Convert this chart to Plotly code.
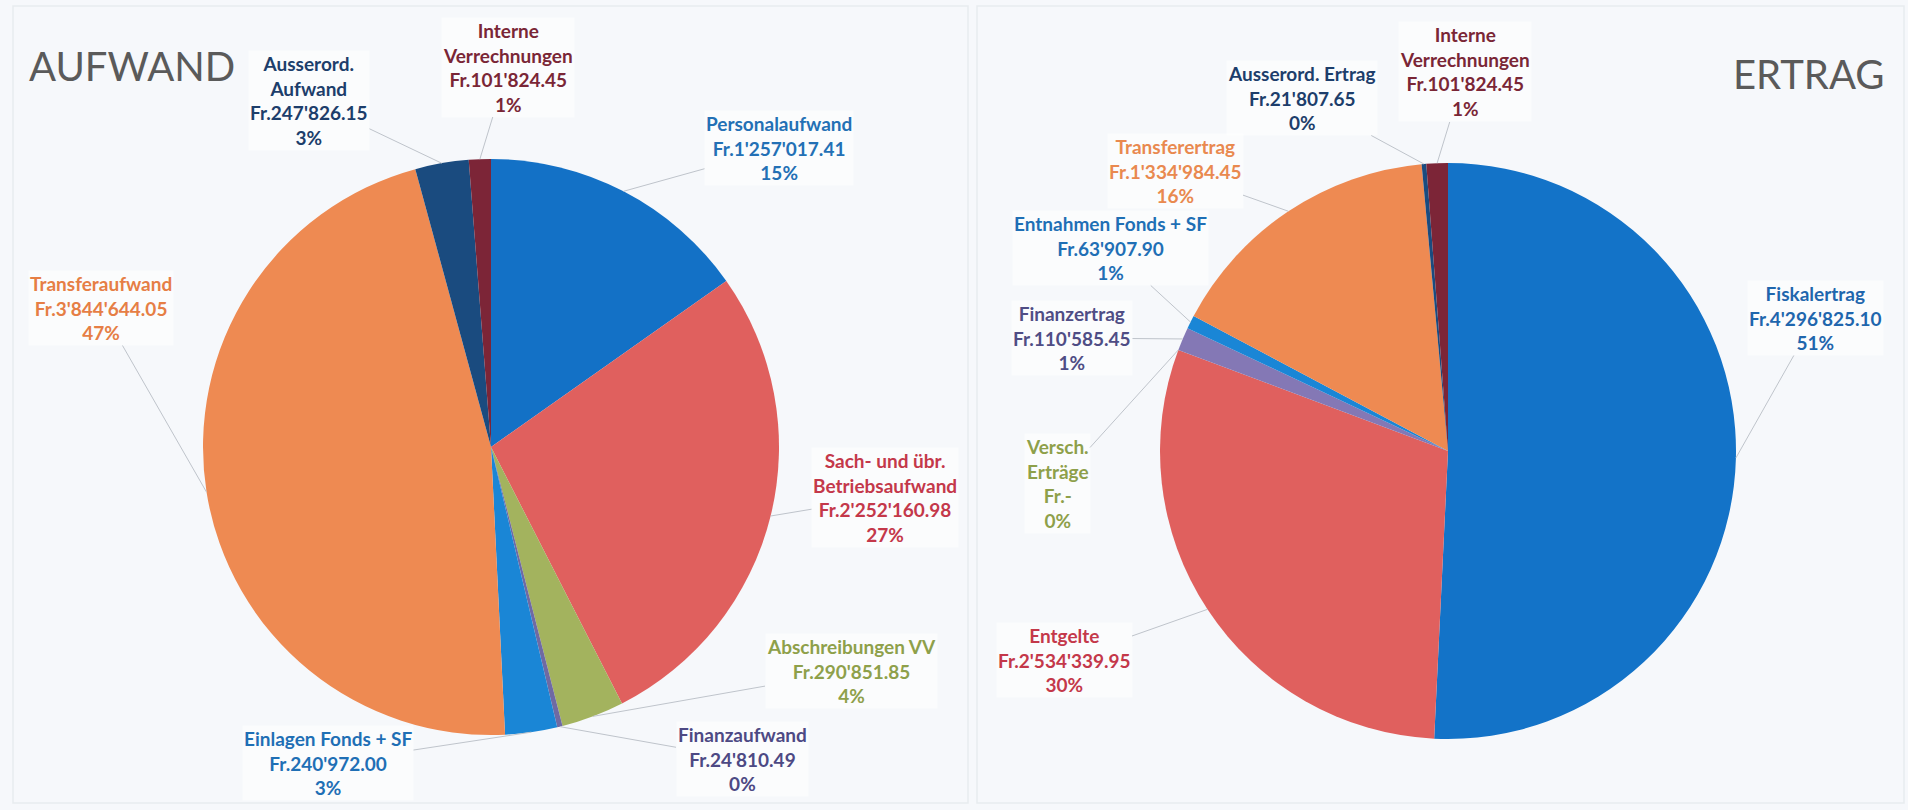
import math
import plotly.graph_objects as go

# ---------------- data ----------------
aufwand_labels = ["Personalaufwand", "Sach- und übr. Betriebsaufwand", "Abschreibungen VV",
                  "Finanzaufwand", "Einlagen Fonds + SF", "Transferaufwand",
                  "Ausserord. Aufwand", "Interne Verrechnungen"]
aufwand_display = ["Personalaufwand", "Sach- und übr.<br>Betriebsaufwand", "Abschreibungen VV",
                   "Finanzaufwand", "Einlagen Fonds + SF", "Transferaufwand",
                   "Ausserord.<br>Aufwand", "Interne<br>Verrechnungen"]
aufwand_values = [1257017.41, 2252160.98, 290851.85, 24810.49, 240972.00, 3844644.05,
                  247826.15, 101824.45]

ertrag_labels = ["Fiskalertrag", "Entgelte", "Versch. Erträge", "Finanzertrag",
                 "Entnahmen Fonds + SF", "Transferertrag", "Ausserord. Ertrag",
                 "Interne Verrechnungen"]
ertrag_display = ["Fiskalertrag", "Entgelte", "Versch.<br>Erträge", "Finanzertrag",
                  "Entnahmen Fonds + SF", "Transferertrag", "Ausserord. Ertrag",
                  "Interne<br>Verrechnungen"]
ertrag_values = [4296825.10, 2534339.95, 0.0, 110585.45, 63907.90, 1334984.45,
                 21807.65, 101824.45]

titles = ["AUFWAND", "ERTRAG"]

# ---------------- styles / layout ----------------
W, H = 1908, 810
BG = "#F6F8FB"

aufwand_colors = ["#1371C6", "#E0605E", "#A3B35E", "#6F6AA3", "#1A86D6", "#EE8A52",
                  "#1A4B7F", "#7C2537"]
aufwand_text_colors = ["#2370B5", "#C4384A", "#8EA04A", "#4D4984", "#1F6FB5", "#E67E45",
                       "#1D3E6B", "#7A2636"]
ertrag_colors = ["#1373C8", "#E0605E", "#A3B35E", "#8478B5", "#1A86D6", "#EE8A52",
                 "#1A4B7F", "#7C2537"]
ertrag_text_colors = ["#1F66AD", "#C4384A", "#8EA04A", "#4F4D85", "#1F6FB5", "#E9894F",
                      "#1D3E6B", "#7A2636"]

# label box centres in pixels (layout)
aufwand_label_pos = [(779, 148), (885, 497), (851, 671), (742, 759), (328, 763),
                     (101, 308), (309, 100), (508, 67)]
ertrag_label_pos = [(1815, 318), (1064, 660), (1057, 484), (1072, 338), (1110, 248),
                    (1175, 171), (1302, 98), (1465, 72)]

# pie geometry in pixels
pies = [dict(cx=491, cy=447, r=288), dict(cx=1448, cy=451, r=288)]
title_pos = [(132, 66), (1808, 74)]

FONT = "Lato"


def fmt_fr(v):
    if v == 0:
        return "Fr.-"
    return "Fr." + f"{v:,.2f}".replace(",", "'")


def domain(p):
    x0 = (p["cx"] - p["r"]) / W
    x1 = (p["cx"] + p["r"]) / W
    y0 = 1 - (p["cy"] + p["r"]) / H
    y1 = 1 - (p["cy"] - p["r"]) / H
    return dict(x=[x0, x1], y=[y0, y1])


fig = go.Figure()
annotations = []

sets = [
    (aufwand_labels, aufwand_display, aufwand_values, aufwand_colors, aufwand_text_colors,
     aufwand_label_pos),
    (ertrag_labels, ertrag_display, ertrag_values, ertrag_colors, ertrag_text_colors,
     ertrag_label_pos),
]

for k, (labels, disp, vals, cols, tcols, lpos) in enumerate(sets):
    p = pies[k]
    fig.add_trace(go.Pie(
        labels=labels, values=vals, sort=False, direction="clockwise", rotation=0,
        marker=dict(colors=cols, line=dict(width=0)),
        textinfo="none", hoverinfo="label+value+percent",
        domain=domain(p), showlegend=False,
    ))
    total = sum(vals)
    cum = 0.0
    for i, v in enumerate(vals):
        mid = (cum + v / 2) / total
        cum += v
        ang = 2 * math.pi * mid
        ex = p["cx"] + p["r"] * math.sin(ang)
        ey = p["cy"] - p["r"] * math.cos(ang)
        lx, ly = lpos[i]
        pct = round(100 * v / total)
        text = f"<b>{disp[i]}<br>{fmt_fr(v)}<br>{pct}%</b>"
        annotations.append(dict(
            x=ex / W, y=1 - ey / H, xref="paper", yref="paper",
            ax=lx - ex, ay=ly - ey, axref="pixel", ayref="pixel",
            text=text, showarrow=True, arrowhead=0, arrowwidth=1,
            arrowcolor="#BFC4CB", standoff=0, startstandoff=0,
            font=dict(family=FONT, size=19, color=tcols[i]),
            align="center", bgcolor="rgba(255,255,255,0.55)", borderpad=1,
        ))
    tx, ty = title_pos[k]
    annotations.append(dict(
        x=tx / W, y=1 - ty / H, xref="paper", yref="paper", showarrow=False,
        text=titles[k], font=dict(family=FONT, size=40, color="#5A5A5A"),
        xanchor="center", yanchor="middle",
    ))

shapes = [
    dict(type="rect", xref="paper", yref="paper", x0=13 / W, x1=968 / W,
         y0=1 - 803 / H, y1=1 - 6 / H, line=dict(color="#E8EBEF", width=1.5),
         fillcolor="rgba(0,0,0,0)", layer="below"),
    dict(type="rect", xref="paper", yref="paper", x0=977 / W, x1=1904 / W,
         y0=1 - 803 / H, y1=1 - 6 / H, line=dict(color="#E8EBEF", width=1.5),
         fillcolor="rgba(0,0,0,0)", layer="below"),
]

fig.update_layout(
    width=W, height=H, margin=dict(l=0, r=0, t=0, b=0),
    paper_bgcolor=BG, plot_bgcolor=BG,
    annotations=annotations, shapes=shapes, showlegend=False,
)

fig.write_html(
    "out.html",
    config={"displayModeBar": False},
    post_script="document.body.style.margin='0';document.body.style.overflow='hidden';"
                "document.body.style.background='" + BG + "';",
)
